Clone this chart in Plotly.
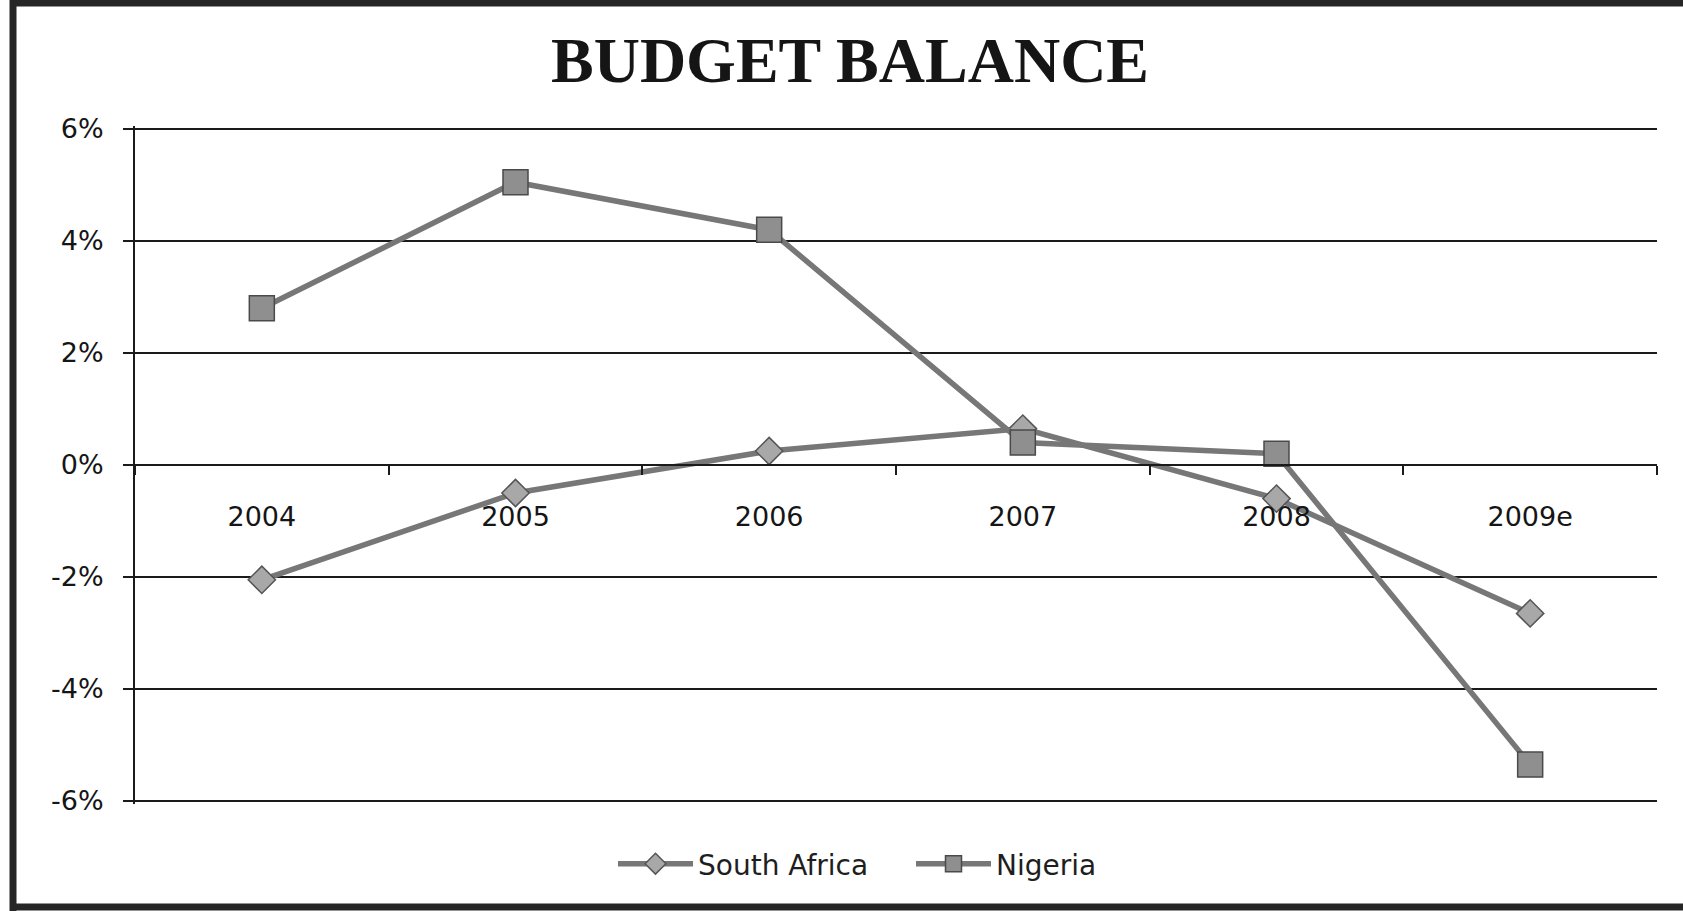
import plotly.graph_objects as go

# Budget balance, % of GDP
years = ["2004", "2005", "2006", "2007", "2008", "2009e"]
south_africa = [-2.05, -0.5, 0.25, 0.65, -0.6, -2.65]
nigeria = [2.8, 5.05, 4.2, 0.4, 0.2, -5.35]

y_tick_values = [-6, -4, -2, 0, 2, 4, 6]
y_tick_labels = ["-6%", "-4%", "-2%", "0%", "2%", "4%", "6%"]

W, H = 1683, 911
PX_PER_PCT = 56
# A little padding keeps the ±6% gridlines drawn at the plot edges
y_pad = 3 / PX_PER_PCT
L, R, T, B = 135, 26, 126, 107
plot_w = W - L - R
plot_h = H - T - B


def px_x(px):
    return (px - L) / plot_w


def px_y(py):
    return (H - B - py) / plot_h


label_font = dict(family="DejaVu Sans", size=27, color="#151515")

fig = go.Figure()
fig.add_trace(go.Scatter(
    x=years, y=south_africa, name="South Africa", mode="lines+markers",
    line=dict(color="#777777", width=5.5),
    marker=dict(symbol="diamond", size=21, color="#a8a8a8",
                line=dict(color="#555555", width=1.5)),
))
fig.add_trace(go.Scatter(
    x=years, y=nigeria, name="Nigeria", mode="lines+markers",
    line=dict(color="#777777", width=5.5),
    marker=dict(symbol="square", size=25, color="#8f8f8f",
                line=dict(color="#4a4a4a", width=1.5)),
))

fig.update_layout(
    width=W, height=H, autosize=False,
    margin=dict(l=L, r=R, t=T, b=B),
    paper_bgcolor="white", plot_bgcolor="white",
    title=dict(
        text="BUDGET BALANCE",
        font=dict(family="Liberation Serif", size=64, color="#151515", weight="bold"),
        x=850 / W, xanchor="center", xref="container",
        y=1 - 60 / H, yanchor="middle", yref="container",
    ),
    showlegend=True,
    legend=dict(
        orientation="h", x=px_x(911), xanchor="center",
        y=px_y(864), yanchor="middle",
        font=dict(family="DejaVu Sans", size=28, color="#1e1e1e"),
        itemwidth=75, entrywidth=208, bgcolor="rgba(0,0,0,0)",
    ),
    xaxis=dict(
        type="category", categoryorder="array", categoryarray=years,
        range=[-0.5, 5.5], anchor="free", position=0.5,
        showline=True, linecolor="#1a1a1a", linewidth=2,
        ticks="outside", tickson="boundaries", ticklen=9,
        tickcolor="#1a1a1a", tickwidth=1.5,
        ticklabelstandoff=28,
        showgrid=False, zeroline=False, tickfont=label_font,
    ),
    yaxis=dict(
        range=[-6 - y_pad, 6 + y_pad], tickvals=y_tick_values, ticktext=y_tick_labels,
        showline=True, linecolor="#1a1a1a", linewidth=2,
        ticks="outside", ticklen=10, tickcolor="#1a1a1a", tickwidth=2,
        showgrid=True, gridcolor="#1a1a1a", gridwidth=2,
        zeroline=False, tickfont=label_font, ticklabelstandoff=14,
    ),
)

# Scanned page frame: top, left and bottom edges
frame = dict(type="line", xref="paper", yref="paper",
             line=dict(color="#262626", width=7), layer="above")
fig.add_shape(**frame, x0=px_x(12), x1=px_x(W + 5), y0=px_y(3), y1=px_y(3))
fig.add_shape(**frame, x0=px_x(13), x1=px_x(13), y0=px_y(0), y1=px_y(H))
fig.add_shape(**frame, x0=px_x(12), x1=px_x(W + 5), y0=px_y(907), y1=px_y(907))

fig.write_html("out.html")
